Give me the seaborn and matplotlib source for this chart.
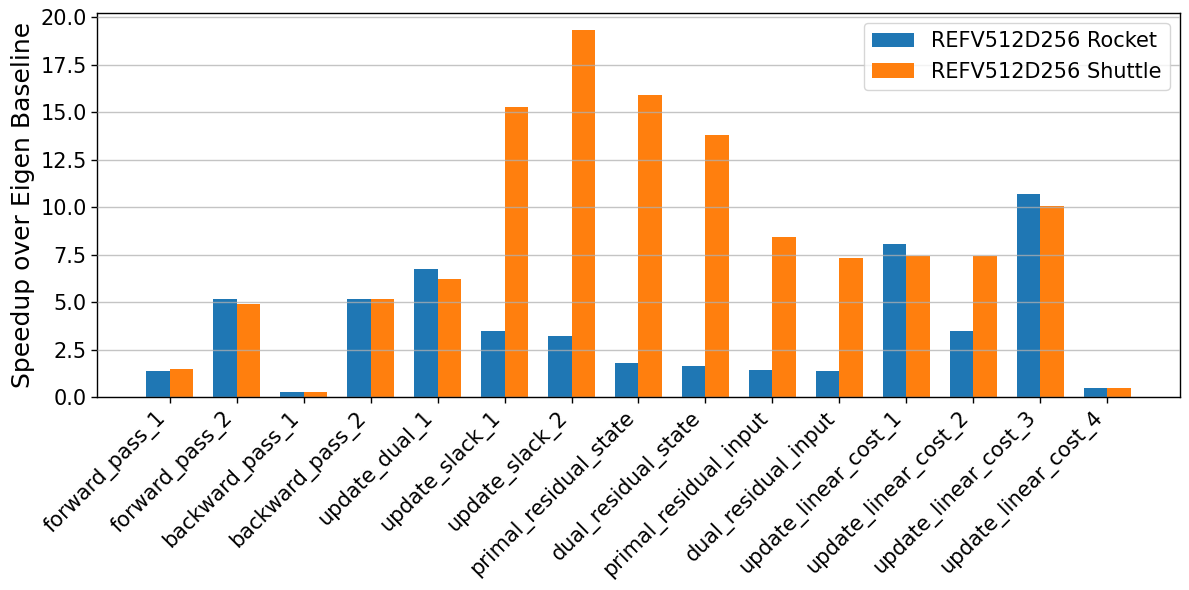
import pandas as pd
import numpy as np
import seaborn as sns
import matplotlib.pyplot as plt

kernels = ["forward_pass_1", "forward_pass_2", "backward_pass_1", "backward_pass_2",
           "update_dual_1", "update_slack_1", "update_slack_2", "primal_residual_state",
           "dual_residual_state", "primal_residual_input", "dual_residual_input",
           "update_linear_cost_1", "update_linear_cost_2", "update_linear_cost_3",
           "update_linear_cost_4"]
rocket = [1.41, 5.16, 0.27, 5.16, 6.77, 3.50, 3.24, 1.79, 1.63, 1.46, 1.41, 8.09, 3.50, 10.69, 0.47]
shuttle = [1.51, 4.91, 0.27, 5.16, 6.24, 15.28, 19.36, 15.91, 13.83, 8.45, 7.36, 7.46, 7.46, 10.07, 0.47]
series = ["REFV512D256 Rocket", "REFV512D256 Shuttle"]

df = pd.DataFrame({
    "kernel": kernels * 2,
    "speedup": rocket + shuttle,
    "config": [series[0]] * len(kernels) + [series[1]] * len(kernels),
})

sns.set_style("white")
plt.rcParams['font.family'] = ['DejaVu Sans']
plt.rcParams['text.color'] = 'black'
plt.rcParams['axes.labelcolor'] = 'black'
plt.rcParams['xtick.color'] = 'black'
plt.rcParams['ytick.color'] = 'black'

fig, ax = plt.subplots(figsize=(11.89, 5.9), dpi=100)
fig.subplots_adjust(left=0.0816, right=0.9924, top=0.9785, bottom=0.3266)

sns.barplot(data=df, x="kernel", y="speedup", hue="config",
            palette=["#1f77b4", "#ff7f0e"], width=0.7, gap=0,
            errorbar=None, saturation=1, linewidth=0, ax=ax)

# same padding matplotlib would give (5% of the data span)
pad = 0.05 * (len(kernels) - 1 + 0.7)
ax.set_xlim(-0.35 - pad, len(kernels) - 1 + 0.35 + pad)
ax.set_ylim(0, 20.25)
ax.set_yticks(np.arange(0, 20.1, 2.5))
ax.set_ylabel("Speedup over Eigen Baseline", fontsize=18)
ax.set_xlabel("")
ax.tick_params(axis="both", labelsize=15, direction="out", length=4, width=1,
               bottom=True, left=True)
plt.setp(ax.get_xticklabels(), rotation=45, ha="right")
ax.set_axisbelow(False)
ax.grid(axis="y", color="#b0b0b0", alpha=0.75, linewidth=1)
ax.grid(axis="x", visible=False)
for s in ax.spines.values():
    s.set_visible(True)
    s.set_color("black")
    s.set_linewidth(1)

ax.legend(title=None, fontsize=15, loc="upper right", frameon=True)

fig.savefig("out.png", dpi=100)
